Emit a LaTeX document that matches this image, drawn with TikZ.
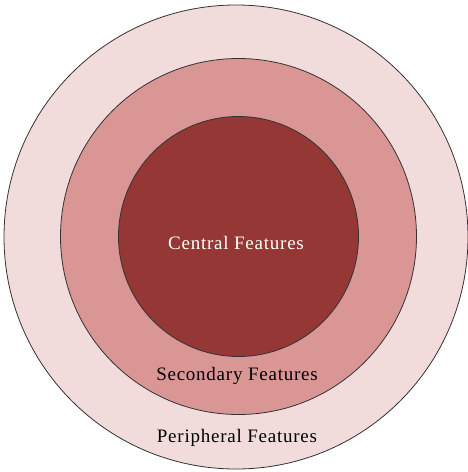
\documentclass[tikz,border=0pt]{standalone}
\usepackage{fontspec}
\newfontfamily\featfont{Liberation Serif}[LetterSpace=4]
\usepackage{tikz}

\definecolor{ringout}{HTML}{F2DCDB}
\definecolor{ringmid}{HTML}{D99694}
\definecolor{ringin}{HTML}{953735}

\tikzset{
    ring/.style={circle, draw=black!80, line width=0.8pt, inner sep=0pt},
    feat/.style={font=\featfont\fontsize{19}{22}\selectfont}
}

\begin{document}
\begin{tikzpicture}[x=1pt, y=-1pt]
            \useasboundingbox (0, 0) rectangle (467, 472);
            \fill[white] (0, 0) rectangle (467, 472);

            \node[ring, fill=ringout, minimum size=464pt] (outer)  at (236, 237)   {};
            \node[ring, fill=ringmid, minimum size=356pt] (middle) at (238.5, 236.5) {};
            \node[ring, fill=ringin,  minimum size=240pt] (inner)  at (238.5, 236.5) {};

            \node[feat, text=white] (central)    at (236, 243) {Central Features};
            \node[feat]             (secondary)  at (237, 376) {Secondary Features};
            \node[feat]             (peripheral) at (237, 438) {Peripheral Features};
        \end{tikzpicture}
\end{document}
